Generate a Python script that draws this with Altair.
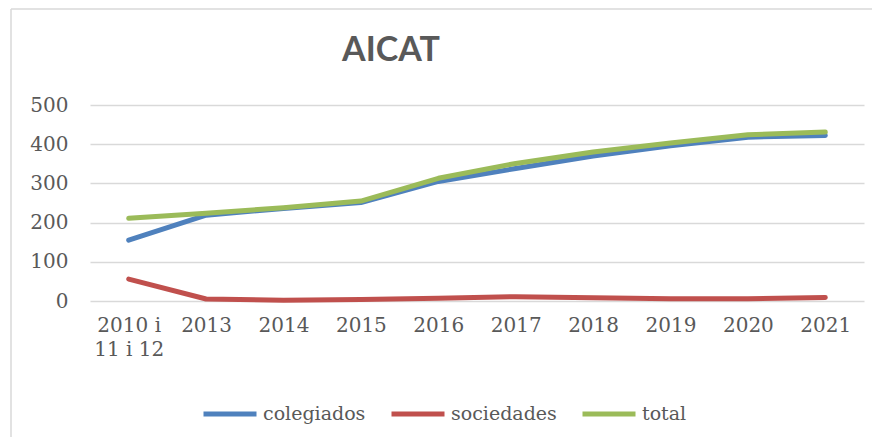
import altair as alt
import pandas as pd

years = ["2010 i\n11 i 12", "2013", "2014", "2015", "2016", "2017", "2018", "2019", "2020", "2021"]
colegiados = [155, 219, 236, 251, 305, 338, 370, 396, 418, 422]
sociedades = [56, 5, 2, 4, 7, 11, 8, 6, 6, 9]
total = [211, 224, 238, 255, 313, 351, 380, 403, 424, 431]

series_names = ["colegiados", "sociedades", "total"]
series_colors = ["#4F81BD", "#C0504D", "#9BBB59"]
title_text = "AICAT"

rows = []
for name, vals in zip(series_names, [colegiados, sociedades, total]):
    for i, (y, v) in enumerate(zip(years, vals)):
        rows.append({"year": y, "value": v, "serie": name, "order": i})
df = pd.DataFrame(rows)

lines = alt.Chart(df).mark_line(strokeWidth=5, strokeCap="round", strokeJoin="round").encode(
    x=alt.X("year:N", sort=years, title=None,
            scale=alt.Scale(type="point", padding=0.5),
            axis=alt.Axis(labelAngle=0, labelExpr="split(datum.label, '\\n')",
                          labelFont="DejaVu Serif", labelFontSize=20, labelColor="#595959",
                          labelLineHeight=24, labelPadding=14, domain=False, ticks=False,
                          grid=False, labelBaseline="top")),
    y=alt.Y("value:Q", title=None,
            scale=alt.Scale(domain=[0, 500], nice=False),
            axis=alt.Axis(values=[0, 100, 200, 300, 400, 500], labelFont="DejaVu Serif",
                          labelFontSize=20, labelColor="#595959", labelPadding=22,
                          domain=False, ticks=False, gridColor="#d9d9d9", gridWidth=1.5)),
    color=alt.Color("serie:N", sort=series_names,
                    scale=alt.Scale(domain=series_names, range=series_colors),
                    legend=alt.Legend(title=None, orient="none", direction="horizontal",
                                      legendX=111, legendY=280, symbolType="stroke",
                                      symbolSize=2809, symbolStrokeWidth=5,
                                      labelFont="DejaVu Serif", labelFontSize=19,
                                      labelColor="#595959", labelOffset=4,
                                      columnPadding=15, padding=0)),
    order="order:Q",
)

border_data = pd.DataFrame({"k": [0]})
left_border = alt.Chart(border_data).mark_rule(color="#d9d9d9", strokeWidth=1.5).encode(
    x=alt.value(-79), y=alt.value(-96), y2=alt.value(400)
)
top_border = alt.Chart(border_data).mark_rule(color="#d9d9d9", strokeWidth=1.5).encode(
    x=alt.value(-79), x2=alt.value(900), y=alt.value(-96)
)

title = alt.Chart(pd.DataFrame({"t": [title_text]})).mark_text(
    font="Lato", fontSize=34, fontWeight="bold", color="#595959",
    align="center", baseline="alphabetic"
).encode(text="t:N", x=alt.value(301), y=alt.value(-44))

chart = alt.layer(left_border, top_border, title, lines).properties(
    width=774, height=196,
    autosize=alt.AutoSizeParams(type="none"),
    padding={"left": 82, "top": 97, "right": 8, "bottom": 136},
).configure_view(stroke=None)

chart.save("out.html", embed_options={"renderer": "svg", "actions": False})
